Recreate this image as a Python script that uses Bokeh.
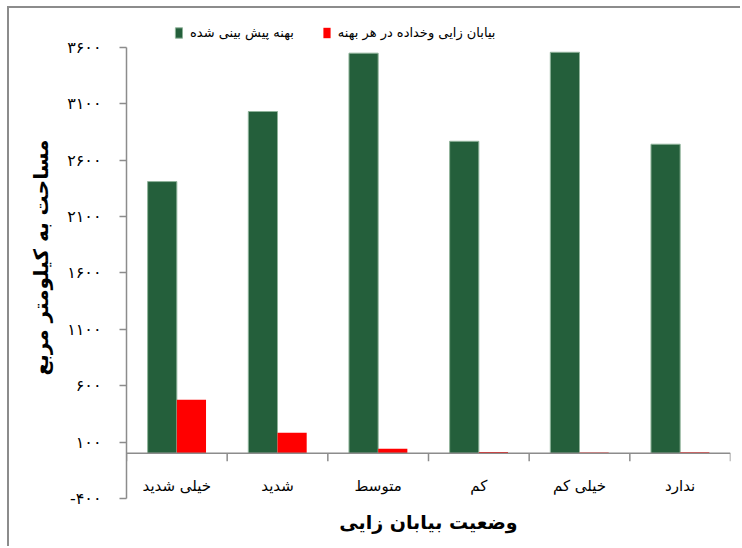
from bokeh.plotting import figure
from bokeh.models import (Range1d, LinearAxis, FixedTicker, Span, Legend,
                          LegendItem, Title, ColumnDataSource)
from bokeh.core.properties import value
from bokeh.embed import file_html
from bokeh.resources import INLINE

# ---------------- data ----------------
categories = ["خیلی شدید", "شدید", "متوسط", "کم", "خیلی کم", "ندارد"]
predicted = [2409, 3030, 3547, 2766, 3555, 2740]
occurred = [475, 183, 41, 12, 8, 10]
series_names = ["بهنه پیش بینی شده", "بیابان زایی وخداده در هر بهنه"]
y_ticks = [-400, 100, 600, 1100, 1600, 2100, 2600, 3100, 3600]
y_tick_labels = ["-۴۰۰", "۱۰۰", "۶۰۰", "۱۱۰۰", "۱۶۰۰", "۲۱۰۰", "۲۶۰۰", "۳۱۰۰", "۳۶۰۰"]
x_title = "وضعیت بیابان زایی"
y_title = "مساحت به کیلومتر مربع"

# ---------------- style ----------------
FONT = "DejaVu Sans"
GRAY = "#8c8c8c"
GREEN = "#245f3b"
RED = "#ff0000"
BAR_W = 0.29
Y_MIN, Y_MAX = -400, 3600
Y_VIEW_TOP = 3872  # extra room above the axis for the legend

n = len(categories)
idx = list(range(n))
src = ColumnDataSource(dict(
    xg=[i + 0.5 - BAR_W / 2 for i in idx],
    xr=[i + 0.5 + BAR_W / 2 for i in idx],
    xc=[i + 0.5 for i in idx],
    predicted=predicted,
    occurred=occurred,
    cat=categories,
))

p = figure(width=733, height=540, x_range=Range1d(0, n), y_range=Range1d(Y_MIN, Y_VIEW_TOP),
           output_backend="svg", toolbar_location=None,
           x_axis_type=None, y_axis_type=None,
           min_border_left=117, min_border_right=12, min_border_top=8, min_border_bottom=50)
p.outline_line_color = None
p.background_fill_color = "white"
p.border_fill_color = "white"
p.styles = {"margin-left": "9px", "margin-top": "8px",
            "box-shadow": "-2px -2px 0 0 #8c8c8c"}

yax = LinearAxis(ticker=FixedTicker(ticks=y_ticks), bounds=(Y_MIN, Y_MAX),
                 major_label_overrides=dict(zip(y_ticks, y_tick_labels)),
                 axis_line_color=GRAY, axis_line_width=1.5,
                 major_tick_line_color=GRAY, major_tick_line_width=1.5,
                 major_tick_out=7, major_tick_in=0,
                 minor_tick_line_color=None,
                 major_label_standoff=18,
                 major_label_text_font=FONT, major_label_text_font_size="16px",
                 major_label_text_color="black",
                 axis_label=y_title, axis_label_text_font=FONT,
                 axis_label_text_font_style="bold", axis_label_text_font_size="20px",
                 axis_label_text_color="black", axis_label_standoff=11)
p.add_layout(yax, "left")

# category axis line at zero and boundary ticks
p.add_layout(Span(location=0, dimension="width", line_color=GRAY, line_width=1.5))
bounds = list(range(n + 1))
p.segment(x0=bounds, y0=[0] * len(bounds), x1=bounds, y1=[-70] * len(bounds),
          line_color=GRAY, line_width=1.5)

rg = p.vbar(x="xg", top="predicted", bottom=0, width=BAR_W, source=src,
            fill_color=GREEN, line_color="#8fb39a", line_width=1)
rr = p.vbar(x="xr", top="occurred", bottom=0, width=BAR_W, source=src,
            fill_color=RED, line_color=None)

p.text(x="xc", y=-290, text="cat", source=src, text_align="center",
       text_baseline="middle", text_font=value(FONT), text_font_size="15px",
       text_color="black")

t = Title(text=x_title, align="center", text_font=FONT, text_font_style="bold",
          text_font_size="19px", text_color="black", standoff=20)
p.add_layout(t, "below")

legend = Legend(items=[LegendItem(label=series_names[0], renderers=[rg]),
                       LegendItem(label=series_names[1], renderers=[rr])],
                orientation="horizontal", location=(48, 458),
                glyph_width=9, glyph_height=13, label_standoff=7, spacing=28,
                padding=0, margin=0, border_line_color=None,
                background_fill_alpha=0,
                label_text_font=FONT, label_text_font_size="13px",
                label_text_color="black")
p.add_layout(legend, "center")

open("out.html", "w").write(file_html(p, INLINE))
